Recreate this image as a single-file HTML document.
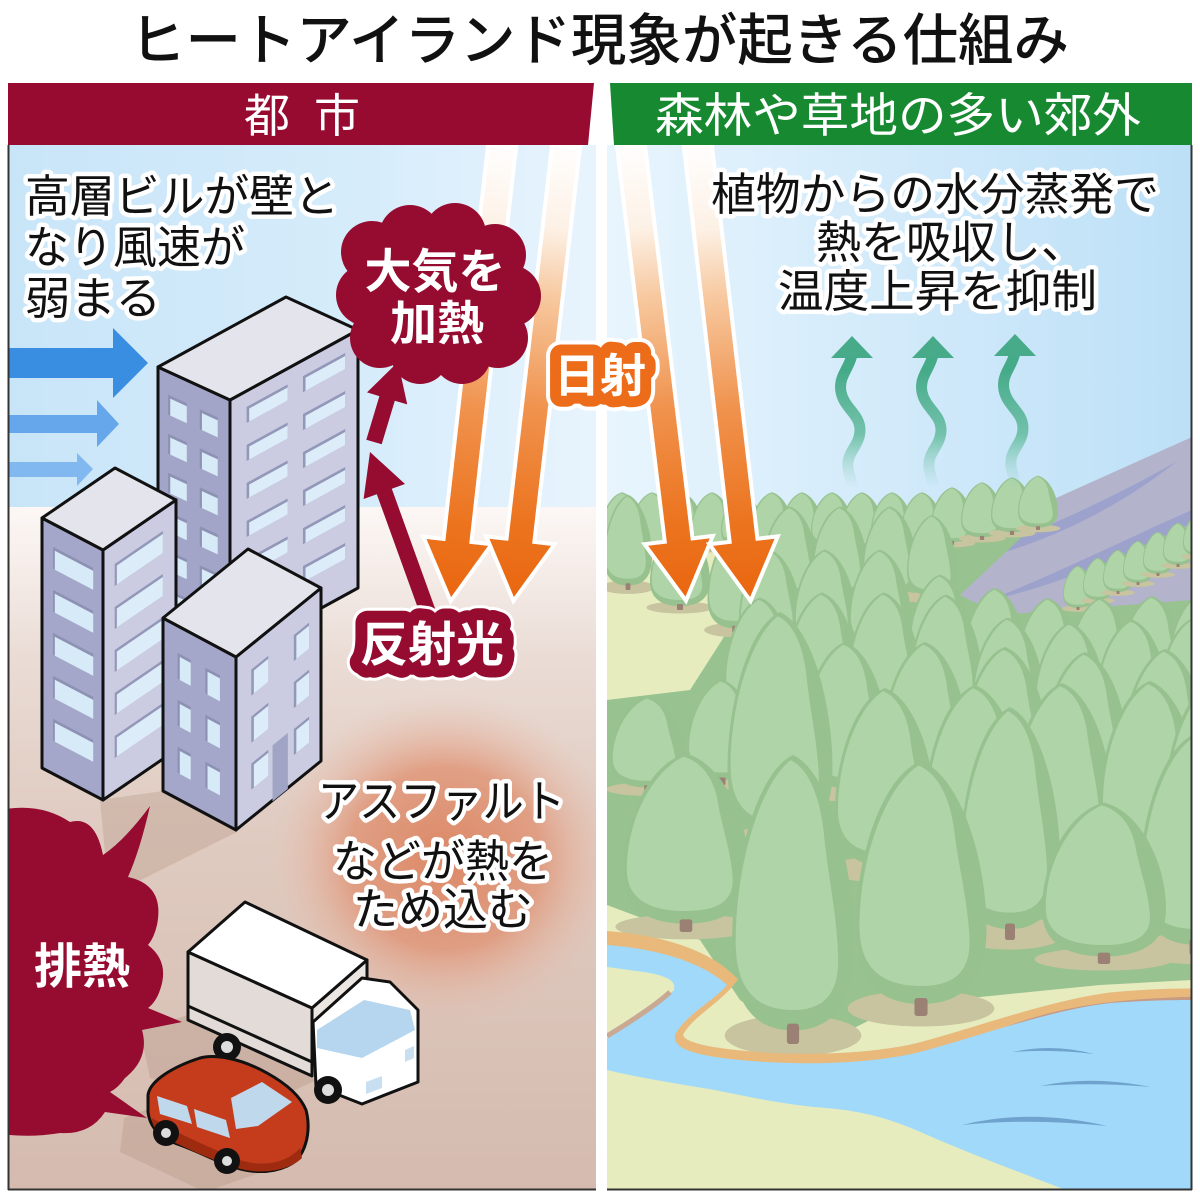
<!DOCTYPE html>
<html><head><meta charset="utf-8">
<style>
html,body{margin:0;padding:0;background:#fff;}
svg{display:block;}
text{font-family:"Liberation Sans","Noto Sans CJK JP",sans-serif;}
</style></head><body>
<svg width="1200" height="1199" viewBox="0 0 1200 1199" xmlns="http://www.w3.org/2000/svg">
<defs>
 <clipPath id="cl"><rect x="8" y="145" width="588" height="1045"/></clipPath>
 <clipPath id="cr"><rect x="607" y="145" width="585" height="1045"/></clipPath>
 <linearGradient id="skyL" x1="0" y1="0" x2="1" y2="0">
  <stop offset="0" stop-color="#c8e5f8"/><stop offset="0.6" stop-color="#d6ecfb"/><stop offset="1" stop-color="#e8f4fd"/>
 </linearGradient>
 <linearGradient id="skyR" x1="0" y1="0" x2="1" y2="0">
  <stop offset="0" stop-color="#e8f5fd"/><stop offset="0.4" stop-color="#d6ecfb"/><stop offset="1" stop-color="#bde0f7"/>
 </linearGradient>
 <linearGradient id="gndL" x1="0" y1="507" x2="0" y2="1190" gradientUnits="userSpaceOnUse">
  <stop offset="0" stop-color="#fcf7f5"/><stop offset="0.08" stop-color="#f6eeea"/><stop offset="0.22" stop-color="#eadcd5"/><stop offset="0.45" stop-color="#e0ccc2"/><stop offset="1" stop-color="#d5bbaf"/>
 </linearGradient>
 <radialGradient id="glow">
  <stop offset="0" stop-color="#dc8460" stop-opacity="0.95"/>
  <stop offset="0.55" stop-color="#e09070" stop-opacity="0.75"/>
  <stop offset="1" stop-color="#ecc0ad" stop-opacity="0"/>
 </radialGradient>
 <linearGradient id="rayg" x1="0" y1="0" x2="0" y2="455" gradientUnits="userSpaceOnUse">
  <stop offset="0" stop-color="#ffffff"/><stop offset="0.2" stop-color="#fdf1e6"/><stop offset="0.35" stop-color="#f7c9a0"/><stop offset="0.6" stop-color="#f0924d"/><stop offset="0.85" stop-color="#ec741f"/><stop offset="1" stop-color="#ea6811"/>
 </linearGradient>
 <linearGradient id="wav" x1="0" y1="370" x2="0" y2="488" gradientUnits="userSpaceOnUse">
  <stop offset="0" stop-color="#45aa88" stop-opacity="1"/><stop offset="0.55" stop-color="#5cb898" stop-opacity="0.8"/><stop offset="1" stop-color="#8fd0bb" stop-opacity="0"/>
 </linearGradient>
 <g id="t">
  <ellipse cx="0" cy="-5" rx="56" ry="12" fill="#c7c49f"/>
  <path d="M0,-170 C30,-160 50,-105 50,-58 C50,-22 30,-8 0,-8 C-30,-8 -50,-22 -50,-58 C-50,-105 -30,-160 0,-170 Z" fill="#97c18f"/>
  <path d="M-2,-167 C-28,-152 -47,-104 -47,-60 C-47,-32 -30,-20 0,-20 C26,-20 38,-30 37,-52 C36,-76 28,-102 25,-126 C21,-150 10,-163 -2,-167 Z" fill="#aed4a7"/>
  <rect x="-5" y="-12" width="10" height="12" rx="2" fill="#9b8174"/>
 </g>
</defs>

<text x="130" y="60" font-size="56" font-weight="500" fill="#111" textLength="939" lengthAdjust="spacingAndGlyphs">ヒートアイランド現象が起きる仕組み</text>

<g clip-path="url(#cl)">
 <rect x="8" y="145" width="588" height="363" fill="url(#skyL)"/>
 <rect x="8" y="507" width="588" height="685" fill="url(#gndL)"/>
 <ellipse cx="445" cy="858" rx="175" ry="165" fill="url(#glow)"/>
 <g fill="#b0917f" opacity="0.32">
  <polygon points="100,800 163,791 237,832 133,884 108,884"/>
  <polygon points="188,1015 316,1080 250,1112 150,1078 140,1030"/>
  <polygon points="150,1108 262,1172 205,1192 120,1152 124,1118"/>
 </g>
 <polygon points="8,348 113,348 113,328 148,363 113,398 113,378 8,378" fill="#3a8ee2"/>
 <polygon points="8,415 97,415 97,400 119,424 97,447 97,433 8,433" fill="#66a7ec"/>
 <polygon points="8,462 77,462 77,453 93,469 77,486 77,477 8,477" fill="#82b8f0"/>

 <g transform="translate(503,138) rotate(6.45)"><polygon points="-12,0 12,0 12,407 31,407 0,462 -31,407 -12,407" fill="url(#rayg)" stroke="#fff" stroke-width="8" stroke-linejoin="miter" paint-order="stroke"/></g>
 <g transform="translate(567,138) rotate(6.6)"><polygon points="-12,0 12,0 12,407 31,407 0,462 -31,407 -12,407" fill="url(#rayg)" stroke="#fff" stroke-width="8" stroke-linejoin="miter" paint-order="stroke"/></g>

 <g stroke="#111" stroke-width="3" stroke-linejoin="round">
  <polygon points="158,367 230,400 230,658 158,625" fill="#a2a5c7"/>
  <polygon points="230,400 358,330 358,588 230,658" fill="#cbcce2"/>
  <polygon points="158,367 286,297 358,330 230,400" fill="#e4e4ec"/>
 </g>
 <g transform="matrix(72,33,0,1,158,367)">
  <g fill="#8d91b3">
   <rect x=".14" y="23" width=".26" height="20"/><rect x=".58" y="23" width=".25" height="20"/>
   <rect x=".14" y="62" width=".26" height="20"/><rect x=".58" y="62" width=".25" height="20"/>
   <rect x=".14" y="101" width=".26" height="20"/><rect x=".58" y="101" width=".25" height="20"/>
   <rect x=".14" y="140" width=".26" height="20"/><rect x=".58" y="140" width=".25" height="20"/>
   <rect x=".14" y="179" width=".26" height="20"/><rect x=".58" y="179" width=".25" height="20"/>
   <rect x=".14" y="218" width=".26" height="20"/><rect x=".58" y="218" width=".25" height="20"/>
  </g>
  <g fill="#d7eaf7">
   <rect x=".17" y="26" width=".23" height="17"/><rect x=".61" y="26" width=".22" height="17"/>
   <rect x=".17" y="65" width=".23" height="17"/><rect x=".61" y="65" width=".22" height="17"/>
   <rect x=".17" y="104" width=".23" height="17"/><rect x=".61" y="104" width=".22" height="17"/>
   <rect x=".17" y="143" width=".23" height="17"/><rect x=".61" y="143" width=".22" height="17"/>
   <rect x=".17" y="182" width=".23" height="17"/><rect x=".61" y="182" width=".22" height="17"/>
   <rect x=".17" y="221" width=".23" height="17"/><rect x=".61" y="221" width=".22" height="17"/>
  </g>
 </g>
 <g transform="matrix(128,-70,0,1,230,400)">
  <g fill="#9397b8">
   <rect x=".13" y="16" width=".32" height="16"/><rect x=".57" y="16" width=".33" height="16"/>
   <rect x=".13" y="54" width=".32" height="16"/><rect x=".57" y="54" width=".33" height="16"/>
   <rect x=".13" y="92" width=".32" height="16"/><rect x=".57" y="92" width=".33" height="16"/>
   <rect x=".13" y="130" width=".32" height="16"/><rect x=".57" y="130" width=".33" height="16"/>
   <rect x=".13" y="168" width=".32" height="16"/><rect x=".57" y="168" width=".33" height="16"/>
   <rect x=".13" y="206" width=".32" height="16"/><rect x=".57" y="206" width=".33" height="16"/>
  </g>
  <g fill="#dcedf9">
   <rect x=".15" y="19" width=".30" height="13"/><rect x=".59" y="19" width=".31" height="13"/>
   <rect x=".15" y="57" width=".30" height="13"/><rect x=".59" y="57" width=".31" height="13"/>
   <rect x=".15" y="95" width=".30" height="13"/><rect x=".59" y="95" width=".31" height="13"/>
   <rect x=".15" y="133" width=".30" height="13"/><rect x=".59" y="133" width=".31" height="13"/>
   <rect x=".15" y="171" width=".30" height="13"/><rect x=".59" y="171" width=".31" height="13"/>
   <rect x=".15" y="209" width=".30" height="13"/><rect x=".59" y="209" width=".31" height="13"/>
  </g>
 </g>

 <g stroke="#111" stroke-width="3" stroke-linejoin="round">
  <polygon points="42,518 103,550 103,800 42,768" fill="#a4a7c9"/>
  <polygon points="103,550 176,500 176,750 103,800" fill="#cbcce2"/>
  <polygon points="42,518 115,468 176,500 103,550" fill="#e4e4ec"/>
 </g>
 <g transform="matrix(61,32,0,1,42,518)">
  <g fill="#8d91b3">
   <rect x=".18" y="23" width=".66" height="22"/><rect x=".18" y="66" width=".66" height="22"/><rect x=".18" y="109" width=".66" height="22"/><rect x=".18" y="152" width=".66" height="22"/><rect x=".18" y="195" width=".66" height="22"/>
  </g>
  <g fill="#d7eaf7">
   <rect x=".21" y="26" width=".63" height="19"/><rect x=".21" y="69" width=".63" height="19"/><rect x=".21" y="112" width=".63" height="19"/><rect x=".21" y="155" width=".63" height="19"/><rect x=".21" y="198" width=".63" height="19"/>
  </g>
 </g>
 <g transform="matrix(73,-50,0,1,103,550)">
  <g fill="#9397b8">
   <rect x=".16" y="22" width=".66" height="22"/><rect x=".16" y="65" width=".66" height="22"/><rect x=".16" y="108" width=".66" height="22"/><rect x=".16" y="151" width=".66" height="22"/><rect x=".16" y="194" width=".66" height="22"/>
  </g>
  <g fill="#dcedf9">
   <rect x=".19" y="25" width=".63" height="19"/><rect x=".19" y="68" width=".63" height="19"/><rect x=".19" y="111" width=".63" height="19"/><rect x=".19" y="154" width=".63" height="19"/><rect x=".19" y="197" width=".63" height="19"/>
  </g>
 </g>

 <g stroke="#111" stroke-width="3" stroke-linejoin="round">
  <polygon points="163,618 236,657 236,830 163,791" fill="#a4a7c9"/>
  <polygon points="236,657 321,588 321,761 236,830" fill="#cbcce2"/>
  <polygon points="163,618 248,549 321,588 236,657" fill="#e4e4ec"/>
 </g>
 <g transform="matrix(73,39,0,1,163,618)">
  <g fill="#8d91b3">
   <rect x=".2" y="27" width=".18" height="26"/><rect x=".58" y="27" width=".2" height="26"/>
   <rect x=".2" y="74" width=".18" height="26"/><rect x=".58" y="74" width=".2" height="26"/>
   <rect x=".2" y="121" width=".18" height="26"/><rect x=".58" y="121" width=".2" height="26"/>
  </g>
  <g fill="#d7eaf7">
   <rect x=".23" y="30" width=".15" height="23"/><rect x=".61" y="30" width=".17" height="23"/>
   <rect x=".23" y="77" width=".15" height="23"/><rect x=".61" y="77" width=".17" height="23"/>
   <rect x=".23" y="124" width=".15" height="23"/><rect x=".61" y="124" width=".17" height="23"/>
  </g>
 </g>
 <g transform="matrix(85,-69,0,1,236,657)">
  <g fill="#9397b8">
   <rect x=".18" y="25" width=".2" height="26"/><rect x=".68" y="25" width=".18" height="26"/>
   <rect x=".18" y="72" width=".2" height="26"/><rect x=".68" y="72" width=".18" height="26"/>
   <rect x=".18" y="119" width=".2" height="26"/><rect x=".68" y="119" width=".18" height="26"/>
  </g>
  <g fill="#dcedf9">
   <rect x=".21" y="28" width=".17" height="23"/><rect x=".71" y="28" width=".15" height="23"/>
   <rect x=".21" y="75" width=".17" height="23"/><rect x=".71" y="75" width=".15" height="23"/>
   <rect x=".21" y="122" width=".17" height="23"/><rect x=".71" y="122" width=".15" height="23"/>
  </g>
  <rect x=".43" y="118" width=".18" height="56" fill="#a0a4c5"/>
 </g>

 <g fill="#960c30">
  <ellipse cx="438" cy="295" rx="82" ry="72"/>
  <circle cx="372" cy="252" r="31"/><circle cx="410" cy="236" r="31"/><circle cx="455" cy="234" r="31"/>
  <circle cx="495" cy="255" r="31"/><circle cx="510" cy="296" r="31"/><circle cx="498" cy="338" r="30"/>
  <circle cx="462" cy="355" r="29"/><circle cx="420" cy="355" r="29"/><circle cx="380" cy="338" r="30"/>
  <circle cx="367" cy="295" r="31"/>
 </g>
 <text x="435" y="288" font-size="47" font-weight="bold" fill="#fff" text-anchor="middle">大気を</text>
 <text x="437" y="340" font-size="47" font-weight="bold" fill="#fff" text-anchor="middle">加熱</text>

 <polygon points="437.5,615.3 391.8,488.8 405,484 370,452 363.6,499 376.8,494.2 422.5,620.7" fill="#960c30"/>
 <polygon points="381.7,444.3 394.8,400.7 407.2,404.4 398,362 367,392.4 379.4,396.1 366.3,439.7" fill="#960c30"/>

 <text x="432" y="661" font-size="48" font-weight="bold" text-anchor="middle" fill="#fff" stroke="#fff" stroke-width="30" stroke-linejoin="round">反射光</text>
 <text x="432" y="661" font-size="48" font-weight="bold" text-anchor="middle" fill="#fff" stroke="#960c30" stroke-width="24" stroke-linejoin="round" paint-order="stroke">反射光</text>

 <path d="M0,810 Q40,802 70,822 Q95,815 103,855 Q125,840 150,806 Q140,850 128,877 Q165,885 157,925 Q154,938 148,945 Q170,962 160,990 Q156,1002 148,1008 L182,1022 L142,1030 Q150,1058 125,1078 Q118,1088 110,1092 L147,1118 L105,1112 Q90,1135 60,1133 Q30,1138 0,1134 Z" fill="#960c30"/>
 <text x="82" y="983" font-size="48" font-weight="bold" fill="#fff" text-anchor="middle">排熱</text>

 <g stroke="#111" stroke-width="3" stroke-linejoin="round">
  <polygon points="188,952 312,1008 312,1076 188,1020" fill="#e2dbd7"/>
  <line x1="188" y1="1006" x2="312" y2="1062"/>
  <polygon points="312,1008 367,960 367,985 312,1033" fill="#ece6e2"/>
  <polygon points="188,952 245,902 367,960 312,1008" fill="#ffffff"/>
  <polygon points="313,1022 362,978 390,982 418,1010 418,1082 362,1104 316,1086" fill="#ffffff"/>
 </g>
 <polygon points="317,1030 364,1000 410,1010 415,1030 362,1058 317,1048" fill="#b5d6ee"/>
 <polygon points="366,1082 382,1076 382,1088 366,1094" fill="#c7dff0"/>
 <polygon points="405,1050 414,1046 414,1058 405,1062" fill="#c7dff0"/>
 <circle cx="227" cy="1047" r="14" fill="#111"/><circle cx="227" cy="1047" r="6" fill="#ddd"/>
 <circle cx="328" cy="1090" r="14" fill="#111"/><circle cx="328" cy="1090" r="6" fill="#ddd"/>

 <path d="M148,1095 C150,1080 175,1066 200,1058 C215,1054 240,1058 267,1073 C285,1083 300,1095 306,1110 C310,1125 309,1145 297,1160 C285,1170 265,1174 245,1170 C225,1166 200,1152 180,1145 C160,1138 150,1128 148,1112 Z" fill="#c43c1b" stroke="#111" stroke-width="3"/>
 <path d="M152,1118 C175,1132 205,1146 240,1160 C265,1168 288,1162 300,1148 L302,1158 C290,1170 265,1174 245,1170 C220,1164 190,1150 165,1138 C156,1132 152,1126 152,1118 Z" fill="#9e2a10"/>
 <polygon points="157,1096 187,1106 192,1124 160,1114" fill="#bfd8ec"/>
 <polygon points="194,1109 226,1120 230,1138 197,1127" fill="#bfd8ec"/>
 <polygon points="231,1098 262,1082 292,1102 258,1126 236,1129" fill="#bfd8ec"/>
 <circle cx="166" cy="1133" r="13" fill="#111"/><circle cx="166" cy="1133" r="5" fill="#ddd"/>
 <circle cx="227" cy="1161" r="13" fill="#111"/><circle cx="227" cy="1161" r="5" fill="#ddd"/>

 <g font-size="45" fill="#111" stroke="#fff" stroke-width="9" stroke-linejoin="round" paint-order="stroke">
  <text x="25" y="212" textLength="314" lengthAdjust="spacingAndGlyphs">高層ビルが壁と</text>
  <text x="25" y="263" textLength="220" lengthAdjust="spacingAndGlyphs">なり風速が</text>
  <text x="25" y="314" textLength="136" lengthAdjust="spacingAndGlyphs">弱まる</text>
  <text x="318" y="817" textLength="247" lengthAdjust="spacingAndGlyphs">アスファルト</text>
  <text x="333" y="877" textLength="220" lengthAdjust="spacingAndGlyphs">などが熱を</text>
  <text x="353" y="925" textLength="180" lengthAdjust="spacingAndGlyphs">ため込む</text>
 </g>
</g>

<g clip-path="url(#cr)">
 <rect x="607" y="145" width="585" height="420" fill="url(#skyR)"/>
 <rect x="607" y="540" width="585" height="652" fill="#e6ecbe"/>
 <polygon points="925,545 1045,503 1192,437 1192,625 1100,620 1000,630 935,625" fill="#b3b3cb"/>
 <g fill="#9ca2cc">
  <path d="M940,568 C1020,540 1100,505 1176,462 C1110,514 1030,552 940,568 Z"/>
  <path d="M990,600 C1060,572 1130,537 1192,510 L1192,523 C1120,557 1060,585 990,600 Z"/>
  <path d="M1060,575 C1110,560 1150,545 1192,528 L1192,540 C1150,556 1110,568 1060,575 Z"/>
 </g>
 <polygon points="607,700 690,690 722,640 745,600 760,552 1040,520 960,595 1000,615 1060,610 1192,600 1192,980 1100,985 1000,995 900,1005 850,1030 795,1040 740,1000 700,940 607,905" fill="#98c290"/>
 <g>
  <use href="#t" transform="translate(622,550) scale(.42,.34)"/>
  <use href="#t" transform="translate(652,550) scale(.42,.34)"/>
  <use href="#t" transform="translate(682,550) scale(.42,.34)"/>
  <use href="#t" transform="translate(712,550) scale(.42,.34)"/>
  <use href="#t" transform="translate(742,550) scale(.42,.34)"/>
  <use href="#t" transform="translate(772,550) scale(.42,.34)"/>
  <use href="#t" transform="translate(802,550) scale(.42,.34)"/>
  <use href="#t" transform="translate(832,550) scale(.42,.34)"/>
  <use href="#t" transform="translate(862,550) scale(.42,.34)"/>
  <use href="#t" transform="translate(892,550) scale(.42,.34)"/>
  <use href="#t" transform="translate(922,550) scale(.42,.34)"/>
  <use href="#t" transform="translate(952,545) scale(.42,.34)"/>
  <use href="#t" transform="translate(982,540) scale(.42,.34)"/>
  <use href="#t" transform="translate(1012,535) scale(.42,.34)"/>
  <use href="#t" transform="translate(1038,530) scale(.4,.32)"/>

  <use href="#t" transform="translate(628,590) scale(.48,.56)"/>
  <use href="#t" transform="translate(680,610) scale(.6,.5)"/>
  <use href="#t" transform="translate(735,633) scale(.55,.6)"/>
  <use href="#t" transform="translate(790,600) scale(.55,.55)"/>
  <use href="#t" transform="translate(840,600) scale(.55,.55)"/>
  <use href="#t" transform="translate(890,600) scale(.55,.55)"/>
  <use href="#t" transform="translate(932,600) scale(.5,.5)"/>

  <use href="#t" transform="translate(1078,610) scale(.3,.26)"/>
  <use href="#t" transform="translate(1098,602) scale(.3,.26)"/>
  <use href="#t" transform="translate(1118,594) scale(.3,.26)"/>
  <use href="#t" transform="translate(1138,585) scale(.3,.26)"/>
  <use href="#t" transform="translate(1158,576) scale(.3,.26)"/>
  <use href="#t" transform="translate(1178,567) scale(.3,.26)"/>
  <use href="#t" transform="translate(1198,558) scale(.3,.26)"/>

  <use href="#t" transform="translate(770,655) scale(.62,.62)"/>
  <use href="#t" transform="translate(825,655) scale(.62,.62)"/>
  <use href="#t" transform="translate(880,655) scale(.62,.62)"/>
  <use href="#t" transform="translate(940,680) scale(.62,.62)"/>
  <use href="#t" transform="translate(995,690) scale(.62,.6)"/>
  <use href="#t" transform="translate(1048,700) scale(.62,.6)"/>
  <use href="#t" transform="translate(1100,700) scale(.62,.6)"/>
  <use href="#t" transform="translate(1152,698) scale(.62,.6)"/>
  <use href="#t" transform="translate(1200,696) scale(.62,.6)"/>

  <use href="#t" transform="translate(760,725) scale(.72,.75)"/>
  <use href="#t" transform="translate(822,720) scale(.72,.75)"/>
  <use href="#t" transform="translate(884,720) scale(.72,.75)"/>
  <use href="#t" transform="translate(946,722) scale(.72,.75)"/>
  <use href="#t" transform="translate(1008,740) scale(.72,.72)"/>
  <use href="#t" transform="translate(1070,745) scale(.72,.72)"/>
  <use href="#t" transform="translate(1132,742) scale(.72,.72)"/>
  <use href="#t" transform="translate(1194,740) scale(.72,.72)"/>

  <use href="#t" transform="translate(648,792) scale(.75,.56)"/>
  <use href="#t" transform="translate(722,785) scale(.7,.62)"/>
  <use href="#t" transform="translate(845,795) scale(.85,.9)"/>
  <use href="#t" transform="translate(925,795) scale(.85,.9)"/>
  <use href="#t" transform="translate(1005,800) scale(.85,.9)"/>
  <use href="#t" transform="translate(1085,805) scale(.85,.9)"/>
  <use href="#t" transform="translate(1165,802) scale(.85,.9)"/>
  <use href="#t" transform="translate(780,850) scale(1.05,1.4)"/>

  <use href="#t" transform="translate(885,875) scale(1,1.1)"/>
  <use href="#t" transform="translate(975,872) scale(1,1.1)"/>
  <use href="#t" transform="translate(1062,870) scale(1,1.1)"/>
  <use href="#t" transform="translate(1150,868) scale(1,1.1)"/>
  <use href="#t" transform="translate(1215,866) scale(1,1.1)"/>

  <use href="#t" transform="translate(686,932) scale(1.26,1.05)"/>
  <use href="#t" transform="translate(1010,940) scale(1,1.37)"/>
  <use href="#t" transform="translate(1195,955) scale(1.1,1.3)"/>
  <use href="#t" transform="translate(1104,964) scale(1.24,.95)"/>
  <use href="#t" transform="translate(921,1016) scale(1.31,1.5)"/>
  <use href="#t" transform="translate(793,1044) scale(1.22,1.7)"/>
 </g>

 <path d="M600,938 C650,941 700,953 728,980 C714,998 686,1012 676,1032 C672,1048 700,1054 740,1058 C800,1064 870,1062 920,1050 C980,1034 1050,1008 1110,1000 C1150,996 1180,996 1200,996" fill="none" stroke="#e9b97c" stroke-width="15"/>
 <path d="M990,1037 C1050,1011 1110,1002 1200,1000" fill="none" stroke="#c59b86" stroke-width="7"/>
 <path d="M607,945 C650,948 700,960 727,985 C715,1000 685,1015 675,1035 C672,1050 700,1056 740,1060 C800,1066 870,1064 920,1052 C980,1036 1050,1010 1110,1003 C1150,1000 1180,1000 1195,1000 L1195,1192 L1071,1192 C1030,1176 980,1158 925,1134 C890,1118 860,1110 814,1107 C770,1102 740,1095 715,1090 C680,1084 640,1078 607,1070 L607,1038 C630,1022 660,1004 674,990 C676,982 670,977 650,973 C630,970 615,968 607,967 Z" fill="#a0d9f9"/>
 <path d="M607,1036 C630,1022 655,1006 670,992" fill="none" stroke="#c9a894" stroke-width="5"/>
 <g fill="#6fa3cd">
  <path d="M1013,1052 Q1052,1043 1094,1054 Q1052,1049 1013,1052 Z"/>
  <path d="M1040,1086 Q1090,1075 1151,1087 Q1092,1082 1040,1086 Z"/>
  <path d="M962,1125 Q1030,1108 1107,1126 Q1030,1118 962,1125 Z"/>
 </g>

 <g fill="none" stroke="url(#wav)" stroke-width="11">
  <path d="M852,354 C850,368 838,376 841,392 C844,408 860,414 860,430 C860,446 846,452 848,468 C849,476 852,480 852,488"/>
  <path d="M933,354 C931,368 919,376 922,392 C925,408 941,414 941,430 C941,446 927,452 929,468 C930,476 933,480 933,488"/>
  <path d="M1015,352 C1013,366 1001,374 1004,390 C1007,406 1023,412 1023,428 C1023,444 1009,450 1011,466 C1012,474 1015,478 1015,486"/>
 </g>
 <g fill="#47ab8a">
  <polygon points="852,336 873,358 831,358"/>
  <polygon points="933,336 954,358 912,358"/>
  <polygon points="1015,334 1036,356 994,356"/>
 </g>

 <g transform="translate(630,138) rotate(-6.9)"><polygon points="-12,0 12,0 12,407 31,407 0,462 -31,407 -12,407" fill="url(#rayg)" stroke="#fff" stroke-width="8" stroke-linejoin="miter" paint-order="stroke"/></g>
 <g transform="translate(697,138) rotate(-6.6)"><polygon points="-12,0 12,0 12,407 31,407 0,462 -31,407 -12,407" fill="url(#rayg)" stroke="#fff" stroke-width="8" stroke-linejoin="miter" paint-order="stroke"/></g>

 <g font-size="45" fill="#111" stroke="#fff" stroke-width="9" stroke-linejoin="round" paint-order="stroke">
  <text x="711" y="210" textLength="448" lengthAdjust="spacingAndGlyphs">植物からの水分蒸発で</text>
  <text x="816" y="258">熱を吸収し、</text>
  <text x="778" y="307" textLength="319" lengthAdjust="spacingAndGlyphs">温度上昇を抑制</text>
 </g>
</g>

<polygon points="8,83 594,83 588,145 8,145" fill="#980b31"/>
<text x="267" y="132" font-size="46" fill="#fff" text-anchor="middle">都</text>
<text x="337" y="132" font-size="46" fill="#fff" text-anchor="middle">市</text>
<polygon points="610,83 1192,83 1192,145 614,145" fill="#178a31"/>
<text x="655" y="132" font-size="47" fill="#fff" textLength="486" lengthAdjust="spacingAndGlyphs">森林や草地の多い郊外</text>

<text x="600" y="392" font-size="46" font-weight="bold" text-anchor="middle" fill="#fff" stroke="#fff" stroke-width="30" stroke-linejoin="round">日射</text>
<text x="600" y="392" font-size="46" font-weight="bold" text-anchor="middle" fill="#fff" stroke="#ec6c1a" stroke-width="22" stroke-linejoin="round" paint-order="stroke">日射</text>

<g stroke="#333" stroke-width="2" fill="none">
 <line x1="8.5" y1="145" x2="8.5" y2="1190"/>
 <line x1="8" y1="1189.5" x2="596" y2="1189.5"/>
 <line x1="1191.5" y1="145" x2="1191.5" y2="1190"/>
 <line x1="607" y1="1189.5" x2="1192" y2="1189.5"/>
</g>
</svg>
</body></html>
